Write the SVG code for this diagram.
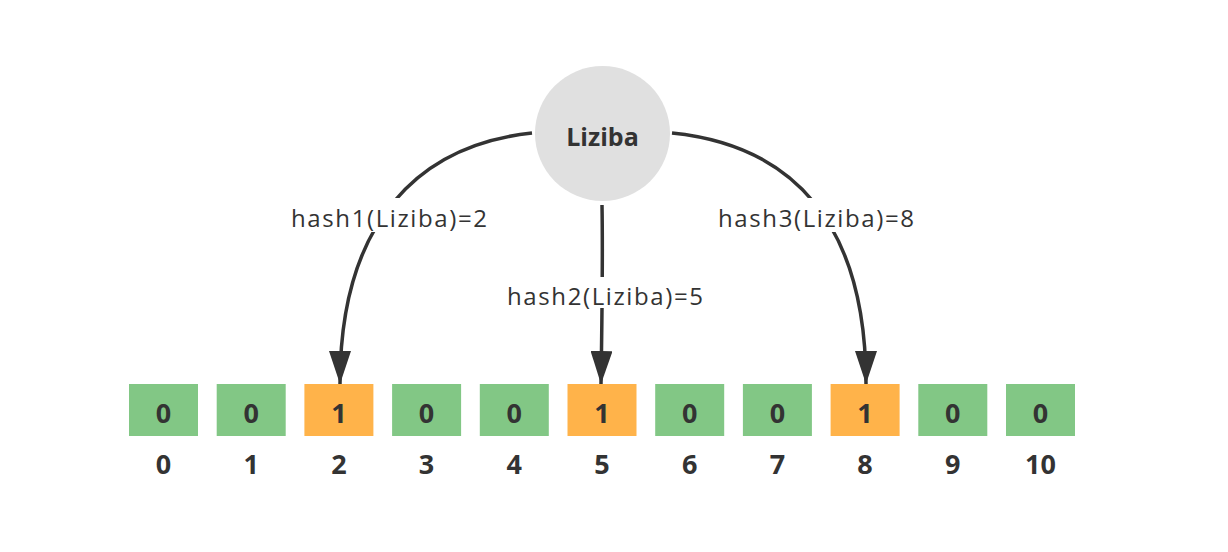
<svg xmlns="http://www.w3.org/2000/svg" width="1228" height="552" viewBox="0 0 1228 552">
<defs>
<marker id="arr" viewBox="0 0 33 22" refX="33" refY="11" markerWidth="33" markerHeight="22" orient="auto" markerUnits="userSpaceOnUse"><path d="M0,0 L33,11 L0,22 Z" fill="#333"/></marker>
<style>
.g{fill:#82C785}
.o{fill:#FFB34A}
.bt{font-family:"Open Sans","Noto Sans","Liberation Sans",sans-serif;font-weight:bold;font-size:27px;fill:#333;text-anchor:middle}
.lbl{font-family:"Open Sans","Noto Sans","Liberation Sans",sans-serif;font-size:24px;fill:#333;text-anchor:middle}
.c{fill:none;stroke:#333;stroke-width:3.5}
</style>
</defs>
<rect width="1228" height="552" fill="#fff"/>
<g id="connectors">
<path class="c" d="M532,133 C420,145 340,220 340,384" marker-end="url(#arr)"/>
<path class="c" d="M602,205 C603,260 602,320 601,384" marker-end="url(#arr)"/>
<path class="c" d="M672,133 C790,145 866,220 866,384" marker-end="url(#arr)"/>
<rect x="289" y="198" width="200" height="34" fill="#fff"/>
<text class="lbl" x="389" y="227" textLength="196" lengthAdjust="spacing">hash1(Liziba)=2</text>
<rect x="505" y="277" width="200" height="31" fill="#fff"/>
<text class="lbl" x="605" y="305" textLength="196" lengthAdjust="spacing">hash2(Liziba)=5</text>
<rect x="716" y="198" width="200" height="34" fill="#fff"/>
<text class="lbl" x="816" y="227" textLength="196" lengthAdjust="spacing">hash3(Liziba)=8</text>
</g>
<g id="node-liziba">
<circle cx="602.5" cy="133.5" r="67.5" fill="#E0E0E0"/>
<text class="bt" x="602.5" y="146" style="font-size:25px">Liziba</text>
</g>
<g id="cell-0"><rect class="g" x="129" y="384" width="69" height="52"/><text class="bt" x="163.5" y="423">0</text><text class="bt" x="163.5" y="474">0</text></g>
<g id="cell-1"><rect class="g" x="216.7" y="384" width="69" height="52"/><text class="bt" x="251.2" y="423">0</text><text class="bt" x="251.2" y="474">1</text></g>
<g id="cell-2"><rect class="o" x="304.4" y="384" width="69" height="52"/><text class="bt" x="338.9" y="423">1</text><text class="bt" x="338.9" y="474">2</text></g>
<g id="cell-3"><rect class="g" x="392.1" y="384" width="69" height="52"/><text class="bt" x="426.6" y="423">0</text><text class="bt" x="426.6" y="474">3</text></g>
<g id="cell-4"><rect class="g" x="479.8" y="384" width="69" height="52"/><text class="bt" x="514.3" y="423">0</text><text class="bt" x="514.3" y="474">4</text></g>
<g id="cell-5"><rect class="o" x="567.5" y="384" width="69" height="52"/><text class="bt" x="602" y="423">1</text><text class="bt" x="602" y="474">5</text></g>
<g id="cell-6"><rect class="g" x="655.2" y="384" width="69" height="52"/><text class="bt" x="689.7" y="423">0</text><text class="bt" x="689.7" y="474">6</text></g>
<g id="cell-7"><rect class="g" x="742.9" y="384" width="69" height="52"/><text class="bt" x="777.4" y="423">0</text><text class="bt" x="777.4" y="474">7</text></g>
<g id="cell-8"><rect class="o" x="830.6" y="384" width="69" height="52"/><text class="bt" x="865.1" y="423">1</text><text class="bt" x="865.1" y="474">8</text></g>
<g id="cell-9"><rect class="g" x="918.3" y="384" width="69" height="52"/><text class="bt" x="952.8" y="423">0</text><text class="bt" x="952.8" y="474">9</text></g>
<g id="cell-10"><rect class="g" x="1006" y="384" width="69" height="52"/><text class="bt" x="1040.5" y="423">0</text><text class="bt" x="1040.5" y="474">10</text></g>
</svg>
